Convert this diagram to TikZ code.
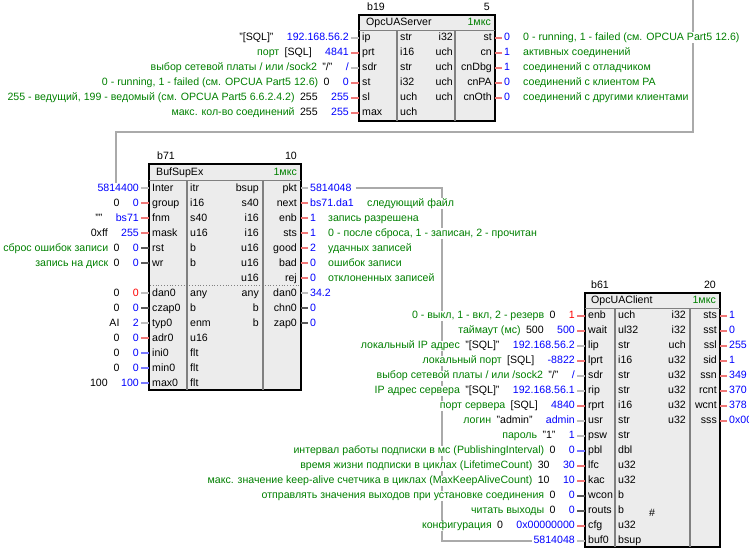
\documentclass[tikz,border=0pt]{standalone}
\usepackage{fontspec}
\setmainfont{Liberation Sans}
\usetikzlibrary{calc}
\definecolor{cmt}{RGB}{0,128,0}
\definecolor{valc}{RGB}{0,0,255}
\definecolor{redv}{RGB}{255,0,0}
\definecolor{stR}{RGB}{240,120,120}
\definecolor{stG}{RGB}{190,190,190}
\definecolor{stD}{RGB}{90,90,90}
\definecolor{stB}{RGB}{120,120,255}
\definecolor{boxbg}{RGB}{236,236,236}
\definecolor{sepc}{RGB}{128,128,128}
\definecolor{wire}{RGB}{170,170,170}
\pgfdeclarelayer{bg}
\pgfsetlayers{bg,main}
\tikzset{
  txt/.style={inner sep=0pt, text height=8pt, text depth=2.6pt, font=\fontsize{10.6}{12}\selectfont},
  ext/.style={txt, fill=white},
  stub/.style={line width=2pt},
  wirel/.style={draw=wire, line width=2pt},
  boxs/.style={draw=black, line width=2pt, fill=boxbg, inner sep=0pt, outer sep=0pt, anchor=north west},
  colsep/.style={draw=sepc, line width=2pt},
  tsep/.style={draw=sepc, line width=0.8pt},
}
% input pin: name, box-left x, y, stub colour, value, value colour, default, comment
\newcommand{\inpin}[8]{%
  \coordinate (#1p) at (#2,#3);
  \node[ext,text=#6,anchor=east] (#1v) at ([xshift=-10pt]#1p) {#5};
  \if\relax\detokenize{#7}\relax\else
    \node[ext,anchor=east] (#1d) at ([xshift=-13pt]#1v.west) {#7};
    \if\relax\detokenize{#8}\relax\else
      \node[ext,text=cmt,anchor=east] (#1c) at ([xshift=-5pt]#1d.west) {#8};
    \fi
  \fi
  \draw[stub,draw=#4] ([xshift=-8pt]#1p) -- (#1p);
}
% output pin: name, box-right x, y, stub colour, value, comment x, comment
\newcommand{\outpin}[7]{%
  \coordinate (#1p) at (#2,#3);
  \node[ext,text=valc,anchor=west] (#1v) at ([xshift=9pt]#1p) {#5};
  \if\relax\detokenize{#7}\relax\else
    \node[ext,text=cmt,anchor=west] (#1c) at (#6,#3) {#7};
  \fi
  \draw[stub,draw=#4] (#1p) -- ([xshift=7pt]#1p);
}
\begin{document}
\begin{tikzpicture}[x=1pt,y=-1pt]
\path[use as bounding box] (0,0) rectangle (749,552);

% ================= b19 OpcUAServer =================
\node[boxs, minimum width=136pt, minimum height=106pt] (b19) at (359,15) {};
\draw[tsep] (359,30) -- (495,30);
\draw[colsep] (397,30) -- (397,121);
\draw[colsep] (455,30) -- (455,121);
\node[txt,anchor=west] (b19id) at (367,7.5) {b19};
\node[txt,anchor=east] (b19nr) at (490,7.5) {5};
\node[txt,anchor=west] (b19tt) at (366,22.5) {OpcUAServer};
\node[txt,anchor=east,text=cmt] (b19tm) at (491,22.5) {1мкс};
\foreach \cY/\cK/\cN/\cA/\cB/\cO in {37.5/r1/ip/str/i32/st, 52.5/r2/prt/i16/uch/cn, 67.5/r3/sdr/str/uch/cnDbg, 82.5/r4/st/i32/uch/cnPA, 97.5/r5/sl/uch/uch/cnOth, 112.5/r6/max/uch//}{
  \node[txt,anchor=west] (b19n\cK) at (362,\cY) {\cN};
  \node[txt,anchor=west] (b19a\cK) at (400,\cY) {\cA};
  \node[txt,anchor=east] (b19b\cK) at (453,\cY) {\cB};
  \node[txt,anchor=east] (b19o\cK) at (492,\cY) {\cO};
}
\inpin{b19iip}{359}{37.5}{stG}{192.168.56.2}{valc}{"[SQL]"}{}
\inpin{b19iprt}{359}{52.5}{stR}{4841}{valc}{[SQL]}{порт}
\inpin{b19isdr}{359}{67.5}{stG}{/}{valc}{"/"}{выбор сетевой платы / или /sock2}
\inpin{b19ist}{359}{82.5}{stR}{0}{valc}{0}{0 - running, 1 - failed (см. OPCUA Part5 12.6)}
\inpin{b19isl}{359}{97.5}{stR}{255}{valc}{255}{255 - ведущий, 199 - ведомый (см. OPCUA Part5 6.6.2.4.2)}
\inpin{b19imax}{359}{112.5}{stR}{255}{valc}{255}{макс. кол-во соединений}
\outpin{b19ost}{495}{37.5}{stR}{0}{523}{0 - running, 1 - failed (см. OPCUA Part5 12.6)}
\outpin{b19ocn}{495}{52.5}{stR}{1}{523}{активных соединений}
\outpin{b19ocnDbg}{495}{67.5}{stR}{1}{523}{соединений с отладчиком}
\outpin{b19ocnPA}{495}{82.5}{stR}{0}{523}{соединений с клиентом PA}
\outpin{b19ocnOth}{495}{97.5}{stR}{0}{523}{соединений с другими клиентами}

% ================= b71 BufSupEx =================
\node[boxs, minimum width=152pt, minimum height=226pt] (b71) at (149,164) {};
\draw[tsep] (149,180) -- (301,180);
\draw[colsep] (187,180) -- (187,390);
\draw[colsep] (263,180) -- (263,390);
\draw[draw=sepc, line width=0.8pt, dotted] (150,285.5) -- (300,285.5);
\node[txt,anchor=west] (b71id) at (157,156.5) {b71};
\node[txt,anchor=east] (b71nr) at (297,156.5) {10};
\node[txt,anchor=west] (b71tt) at (156,172.5) {BufSupEx};
\node[txt,anchor=east,text=cmt] (b71tm) at (297,172.5) {1мкс};
\foreach \cY/\cK/\cN/\cA/\cB/\cO in {188.3/r1/Inter/itr/bsup/pkt, 203.3/r2/group/i16/s40/next, 218.3/r3/fnm/s40/i16/enb, 233.3/r4/mask/u16/i16/sts, 248.3/r5/rst/b/u16/good, 263.3/r6/wr/b/u16/bad, 278.3/r7///u16/rej, 293.3/r8/dan0/any/any/dan0, 308.3/r9/czap0/b/b/chn0, 323.3/r10/typ0/enm/b/zap0, 338.3/r11/adr0/u16//, 353.3/r12/ini0/flt//, 368.3/r13/min0/flt//, 383.3/r14/max0/flt//}{
  \node[txt,anchor=west] (b71n\cK) at (152,\cY) {\cN};
  \node[txt,anchor=west] (b71a\cK) at (190,\cY) {\cA};
  \node[txt,anchor=east] (b71b\cK) at (259,\cY) {\cB};
  \node[txt,anchor=east] (b71o\cK) at (297,\cY) {\cO};
}
\inpin{b71iInter}{149}{188.3}{stG}{5814400}{valc}{}{}
\inpin{b71igroup}{149}{203.3}{stR}{0}{valc}{0}{}
\inpin{b71ifnm}{149}{218.3}{stR}{bs71}{valc}{""}{}
\inpin{b71imask}{149}{233.3}{stR}{255}{valc}{0xff}{}
\inpin{b71irst}{149}{248.3}{stD}{0}{valc}{0}{сброс ошибок записи}
\inpin{b71iwr}{149}{263.3}{stD}{0}{valc}{0}{запись на диск}
\inpin{b71idan}{149}{293.3}{stG}{0}{redv}{0}{}
\inpin{b71iczap}{149}{308.3}{stD}{0}{valc}{0}{}
\inpin{b71ityp}{149}{323.3}{stG}{2}{valc}{AI}{}
\inpin{b71iadr}{149}{338.3}{stR}{0}{valc}{0}{}
\inpin{b71iini}{149}{353.3}{stB}{0}{valc}{0}{}
\inpin{b71imin}{149}{368.3}{stB}{0}{valc}{0}{}
\inpin{b71imax}{149}{383.3}{stB}{100}{valc}{100}{}
\outpin{b71opkt}{301}{188.3}{stG}{5814048}{328}{}
\outpin{b71onext}{301}{203.3}{stR}{bs71.da1}{367}{следующий файл}
\outpin{b71oenb}{301}{218.3}{stR}{1}{328}{запись разрешена}
\outpin{b71osts}{301}{233.3}{stR}{1}{328}{0 - после сброса, 1 - записан, 2 - прочитан}
\outpin{b71ogood}{301}{248.3}{stR}{2}{328}{удачных записей}
\outpin{b71obad}{301}{263.3}{stR}{0}{328}{ошибок записи}
\outpin{b71orej}{301}{278.3}{stR}{0}{328}{отклоненных записей}
\outpin{b71odan}{301}{293.3}{stG}{34.2}{328}{}
\outpin{b71ochn}{301}{308.3}{stD}{0}{328}{}
\outpin{b71ozap}{301}{323.3}{stD}{0}{328}{}

% ================= b61 OpcUAClient =================
\node[boxs, minimum width=135pt, minimum height=254pt] (b61) at (585,293) {};
\draw[tsep] (585,308.5) -- (720,308.5);
\draw[colsep] (615,308.5) -- (615,547);
\draw[colsep] (690,308.5) -- (690,547);
\node[txt,anchor=west] (b61id) at (591,285.5) {b61};
\node[txt,anchor=east] (b61nr) at (716,285.5) {20};
\node[txt,anchor=west] (b61tt) at (591,301) {OpcUAClient};
\node[txt,anchor=east,text=cmt] (b61tm) at (716,301) {1мкс};
\foreach \cY/\cK/\cN/\cA/\cB/\cO in {316/r1/enb/uch/i32/sts, 331/r2/wait/ul32/i32/sst, 346/r3/lip/str/uch/ssl, 361/r4/lprt/i16/u32/sid, 376/r5/sdr/str/u32/ssn, 391/r6/rip/str/u32/rcnt, 406/r7/rprt/i16/u32/wcnt, 421/r8/usr/str/u32/sss, 436/r9/psw/str//, 451/r10/pbl/dbl//, 466/r11/lfc/u32//, 481/r12/kac/u32//, 496/r13/wcon/b//, 511/r14/routs/b//, 526/r15/cfg/u32//, 541/r16/buf0/bsup//}{
  \node[txt,anchor=west] (b61n\cK) at (588,\cY) {\cN};
  \node[txt,anchor=west] (b61a\cK) at (618,\cY) {\cA};
  \node[txt,anchor=east] (b61b\cK) at (686,\cY) {\cB};
  \node[txt,anchor=east] (b61o\cK) at (717,\cY) {\cO};
}
\node[txt] (b61hash) at (652,514) {\#};
\inpin{b61ienb}{585}{316}{stR}{1}{redv}{0}{0 - выкл, 1 - вкл, 2 - резерв}
\inpin{b61iwait}{585}{331}{stR}{500}{valc}{500}{таймаут (мс)}
\inpin{b61ilip}{585}{346}{stG}{192.168.56.2}{valc}{"[SQL]"}{локальный IP адрес}
\inpin{b61ilprt}{585}{361}{stR}{-8822}{valc}{[SQL]}{локальный порт}
\inpin{b61isdr}{585}{376}{stG}{/}{valc}{"/"}{выбор сетевой платы / или /sock2}
\inpin{b61irip}{585}{391}{stG}{192.168.56.1}{valc}{"[SQL]"}{IP адрес сервера}
\inpin{b61irprt}{585}{406}{stR}{4840}{valc}{[SQL]}{порт сервера}
\inpin{b61iusr}{585}{421}{stG}{admin}{valc}{"admin"}{логин}
\inpin{b61ipsw}{585}{436}{stG}{1}{valc}{"1"}{пароль}
\inpin{b61ipbl}{585}{451}{stB}{0}{valc}{0}{интервал работы подписки в мс (PublishingInterval)}
\inpin{b61ilfc}{585}{466}{stR}{30}{valc}{30}{время жизни подписки в циклах (LifetimeCount)}
\inpin{b61ikac}{585}{481}{stR}{10}{valc}{10}{макс. значение keep-alive счетчика в циклах (MaxKeepAliveCount)}
\inpin{b61iwcon}{585}{496}{stD}{0}{valc}{0}{отправлять значения выходов при установке соединения}
\inpin{b61irouts}{585}{511}{stD}{0}{valc}{0}{читать выходы}
\inpin{b61icfg}{585}{526}{stR}{0x00000000}{valc}{0}{конфигурация}
\inpin{b61ibuf0}{585}{541}{stG}{5814048}{valc}{}{}
\outpin{b61osts}{720}{316}{stR}{1}{760}{}
\outpin{b61osst}{720}{331}{stR}{0}{760}{}
\outpin{b61ossl}{720}{346}{stR}{255}{760}{}
\outpin{b61osid}{720}{361}{stR}{1}{760}{}
\outpin{b61ossn}{720}{376}{stR}{349}{760}{}
\outpin{b61orcnt}{720}{391}{stR}{370}{760}{}
\outpin{b61owcnt}{720}{406}{stR}{378}{760}{}
\outpin{b61osss}{720}{421}{stR}{0x00000000}{760}{}

% ================= wires =================
\coordinate (wsrc) at (693,0);
\coordinate (wturn) at (693,132);
\coordinate (wbend) at (442,541);
\begin{pgfonlayer}{bg}
\draw[wirel] (wsrc) -- (wturn) -| ([xshift=-2pt]b71iInterv.north);
\draw[wirel, shorten <=4pt, shorten >=1pt] (b71opktv.east) -| (wbend) -- (b61ibuf0v.west);
\end{pgfonlayer}
\end{tikzpicture}
\end{document}
